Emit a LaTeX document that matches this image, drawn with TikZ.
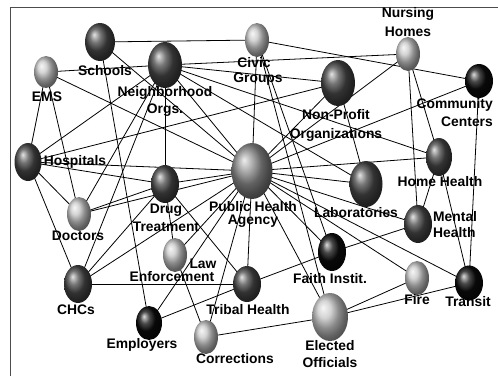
\documentclass[tikz,border=0pt]{standalone}
\usepackage{fontspec}
\setmainfont{Liberation Sans}
\usetikzlibrary{shapes.geometric,backgrounds}
\begin{document}
\begin{tikzpicture}[x=1bp,y=-1bp,
  ballnode/.style={ellipse,inner sep=0pt,shading=ball},
  lightball/.style={ballnode,ball color=gray!45},
  darkball/.style={ballnode,ball color=black!72},
  blackball/.style={ballnode,ball color=black!95},
  midball/.style={ballnode,ball color=gray!90},
  lbl/.style={font=\fontsize{13.9}{14}\selectfont\bfseries,inner sep=0pt,anchor=center},
  link/.style={draw=black,line width=0.8bp},
  frameline/.style={draw=black!70,line width=1bp}]
\useasboundingbox (0,0) rectangle (498,376);
% balls
\node[darkball,minimum width=30bp,minimum height=38bp] (sch) at (100,42) {};
\node[lightball,minimum width=24bp,minimum height=32bp] (ems) at (46,72) {};
\node[darkball,minimum width=34bp,minimum height=46bp] (nbh) at (165,65) {};
\node[lightball,minimum width=24bp,minimum height=34bp] (civ) at (257,40) {};
\node[lightball,minimum width=24bp,minimum height=34bp] (nur) at (408,54) {};
\node[darkball,minimum width=34bp,minimum height=46bp] (npo) at (338,83) {};
\node[blackball,minimum width=28bp,minimum height=34bp] (cc) at (479,81) {};
\node[darkball,minimum width=27bp,minimum height=38bp] (hos) at (28,162) {};
\node[lightball,minimum width=24bp,minimum height=34bp] (doc) at (79,214) {};
\node[darkball,minimum width=28bp,minimum height=38bp] (drug) at (165,184) {};
\node[midball,minimum width=41bp,minimum height=56bp] (pha) at (252,171) {};
\node[darkball,minimum width=33bp,minimum height=46bp] (lab) at (366,184) {};
\node[darkball,minimum width=26bp,minimum height=38bp] (hh) at (439,157) {};
\node[darkball,minimum width=28bp,minimum height=38bp] (mh) at (418,224) {};
\node[blackball,minimum width=28bp,minimum height=38bp] (fth) at (332,252) {};
\node[lightball,minimum width=24bp,minimum height=34bp] (fire) at (417,278) {};
\node[blackball,minimum width=28bp,minimum height=35bp] (tr) at (469,283) {};
\node[lightball,minimum width=36bp,minimum height=48bp] (eo) at (330,317) {};
\node[lightball,minimum width=24bp,minimum height=34bp] (law) at (175,255) {};
\node[darkball,minimum width=28bp,minimum height=38bp] (chc) at (78,284) {};
\node[blackball,minimum width=26bp,minimum height=34bp] (emp) at (149,323) {};
\node[darkball,minimum width=28bp,minimum height=36bp] (tri) at (247,284) {};
\node[lightball,minimum width=24bp,minimum height=34bp] (cor) at (206,337) {};
% labels
\node[lbl] (schl) at (105,71) {Schools};
\node[lbl] (emsl) at (47,97) {EMS};
\node[lbl] (nbhl1) at (165,93) {Neighborhood};
\node[lbl] (nbhl2) at (165,110) {Orgs.};
\node[lbl] (civl1) at (254,63) {Civic};
\node[lbl] (civl2) at (258,79) {Groups};
\node[lbl] (nurl1) at (408,14) {Nursing};
\node[lbl] (nurl2) at (408,32) {Homes};
\node[lbl] (npol1) at (336,115) {Non-Profit};
\node[lbl] (npol2) at (336,135) {Organizations};
\node[lbl,anchor=east] (ccl1) at (493,105) {Community};
\node[lbl,anchor=east] (ccl2) at (493,122) {Centers};
\node[lbl] (hosl) at (75,162) {Hospitals};
\node[lbl] (docl) at (78,236) {Doctors};
\node[lbl] (drugl1) at (166,210) {Drug};
\node[lbl] (drugl2) at (166,227) {Treatment};
\node[lbl] (phal1) at (253,207) {Public Health};
\node[lbl] (phal2) at (253,221) {Agency};
\node[lbl] (labl) at (356,213) {Laboratories};
\node[lbl] (hhl) at (440,182) {Home Health};
\node[lbl,anchor=west] (mhl1) at (433,217) {Mental};
\node[lbl,anchor=west] (mhl2) at (433,233) {Health};
\node[lbl] (fthl) at (330,279) {Faith Instit.};
\node[lbl] (firel) at (417,300) {Fire};
\node[lbl] (trl) at (468,302) {Transit};
\node[lbl] (eol1) at (330,346) {Elected};
\node[lbl] (eol2) at (330,363) {Officials};
\node[lbl] (lawl1) at (203,264) {Law};
\node[lbl] (lawl2) at (172,277) {Enforcement};
\node[lbl] (chcl) at (76,310) {CHCs};
\node[lbl] (empl) at (142,345) {Employers};
\node[lbl] (tril) at (248,310) {Tribal Health};
\node[lbl] (corl) at (235,359) {Corrections};
% connectors and frame
\begin{scope}[on background layer]
\fill[white] (0,0) rectangle (498,376);
\coordinate (fa) at (10,376);
\coordinate (fb) at (10,7);
\coordinate (fc) at (498,7);
\draw[frameline] (fa) -- (fb) -- (fc);
\foreach \a/\b in {sch/civ,sch/emp,sch/pha,
  ems/nbh,ems/hos,ems/doc,ems/pha,
  nbh/hos,nbh/doc,nbh/chc,nbh/drug,nbh/nur,nbh/npo,nbh/hh,nbh/pha,nbh/lab,
  civ/cc,civ/pha,civ/fth,civ/eo,
  hos/npo,hos/pha,hos/drug,hos/doc,hos/chc,
  nur/hh,nur/mh,nur/pha,
  npo/pha,npo/lab,
  cc/pha,cc/tr,
  hh/pha,hh/mh,hh/tr,
  pha/lab,pha/drug,pha/mh,pha/tr,pha/fire,pha/fth,pha/eo,pha/tri,pha/law,pha/chc,pha/doc,pha/emp,pha/cor,
  tri/fth,fth/mh,chc/tri,tri/emp,drug/tri,drug/law,law/cor,doc/drug,chc/drug,eo/fire,eo/tr,cor/eo}
  \draw[link] (\a.center) -- (\b.center);
\end{scope}
\end{tikzpicture}
\end{document}
